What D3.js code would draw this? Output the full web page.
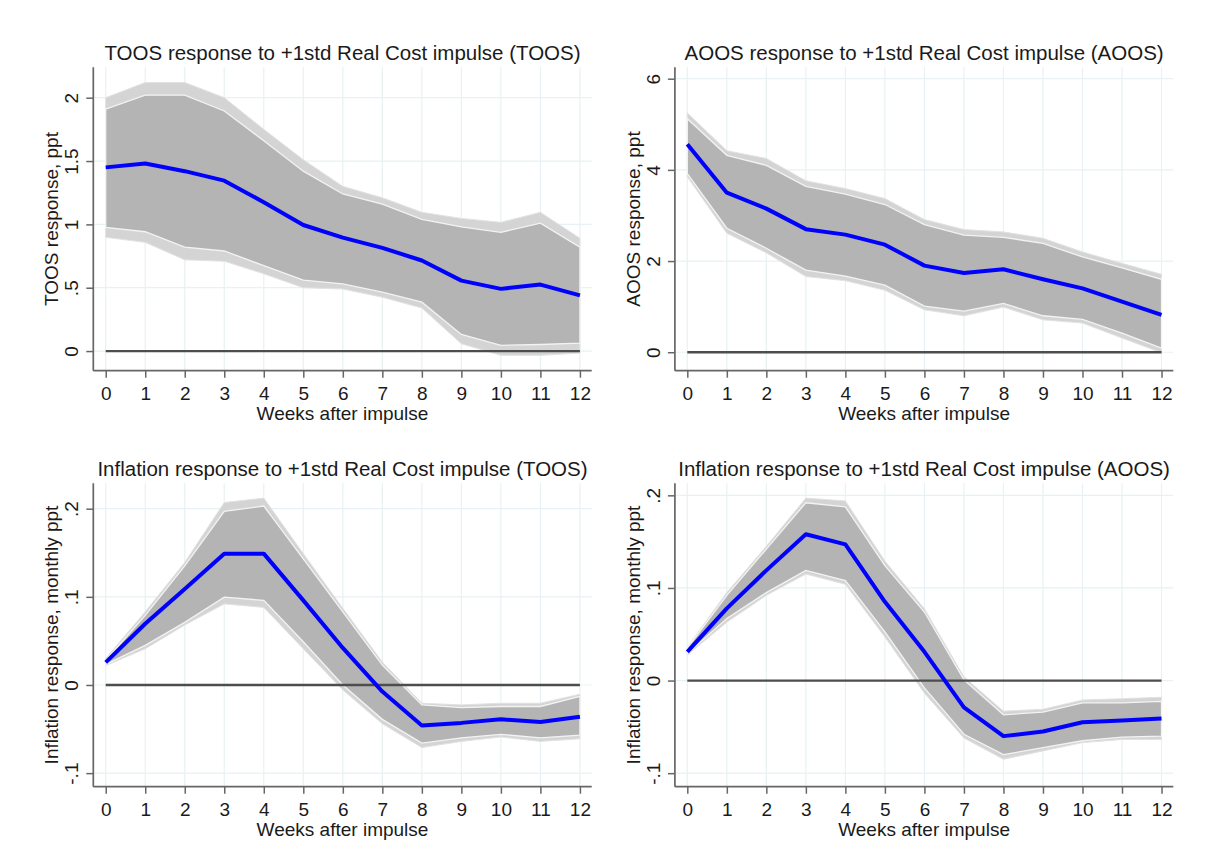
<!DOCTYPE html>
<html>
<head>
<meta charset="utf-8">
<script src="https://cdn.jsdelivr.net/npm/d3@7"></script>
<style>
  html, body { margin: 0; padding: 0; background: #fff; }
  svg { display: block; font-family: "Liberation Sans", Arial, sans-serif; }
</style>
</head>
<body>
<svg id="chart" width="1209" height="852"></svg>
<script>
// ---------------- DATA ----------------
const weeks = [0,1,2,3,4,5,6,7,8,9,10,11,12];
const xTickLabels = ["0","1","2","3","4","5","6","7","8","9","10","11","12"];

// Panel 1: TOOS response (TOOS)
const toosMid     = [1.45,1.48,1.42,1.345,1.175,0.995,0.895,0.815,0.715,0.556,0.491,0.525,0.44];
const toosInnerHi = [1.91,2.02,2.02,1.895,1.66,1.42,1.24,1.16,1.04,0.98,0.937,1.01,0.82];
const toosOuterHi = [2.0,2.12,2.12,2.0,1.75,1.51,1.30,1.21,1.095,1.047,1.016,1.095,0.89];
const toosInnerLo = [0.976,0.942,0.82,0.79,0.675,0.56,0.53,0.465,0.386,0.131,0.045,0.052,0.063];
const toosOuterLo = [0.898,0.858,0.72,0.709,0.61,0.50,0.49,0.425,0.34,0.058,-0.034,-0.034,-0.016];
const toosTicks = [0,0.5,1,1.5,2];
const toosTickLabels = ["0",".5","1","1.5","2"];

// Panel 2: AOOS response (AOOS)
const aoosMid     = [4.56,3.50,3.15,2.70,2.58,2.36,1.90,1.74,1.82,1.60,1.40,1.11,0.82];
const aoosInnerHi = [5.12,4.32,4.10,3.64,3.47,3.24,2.80,2.57,2.52,2.39,2.09,1.85,1.60];
const aoosOuterHi = [5.25,4.42,4.25,3.76,3.59,3.37,2.91,2.69,2.64,2.50,2.20,1.95,1.71];
const aoosInnerLo = [3.92,2.72,2.28,1.80,1.67,1.47,1.01,0.90,1.07,0.80,0.72,0.42,0.09];
const aoosOuterLo = [3.85,2.61,2.18,1.66,1.57,1.36,0.93,0.80,0.99,0.71,0.64,0.31,-0.01];
const aoosTicks = [0,2,4,6];
const aoosTickLabels = ["0","2","4","6"];

// Panel 3: Inflation response (TOOS)
const infToosMid     = [0.0256,0.0695,0.109,0.149,0.149,0.096,0.042,-0.0075,-0.046,-0.043,-0.039,-0.042,-0.036];
const infToosInnerHi = [0.028,0.079,0.135,0.197,0.203,0.143,0.083,0.0226,-0.0226,-0.0256,-0.0244,-0.0244,-0.013];
const infToosOuterHi = [0.030,0.083,0.139,0.207,0.212,0.149,0.087,0.026,-0.0207,-0.0226,-0.0207,-0.0207,-0.0105];
const infToosInnerLo = [0.0233,0.045,0.071,0.0996,0.096,0.049,0.0,-0.039,-0.066,-0.060,-0.056,-0.060,-0.057];
const infToosOuterLo = [0.022,0.041,0.068,0.092,0.088,0.041,-0.0056,-0.044,-0.071,-0.064,-0.059,-0.064,-0.061];
const infTicks = [-0.1,0,0.1,0.2];
const infTickLabels = ["-.1","0",".1",".2"];

// Panel 4: Inflation response (AOOS)
const infAoosMid     = [0.031,0.078,0.119,0.158,0.147,0.085,0.031,-0.029,-0.060,-0.055,-0.045,-0.043,-0.041];
const infAoosInnerHi = [0.035,0.092,0.142,0.192,0.1875,0.124,0.074,0.0007,-0.037,-0.034,-0.024,-0.024,-0.0225];
const infAoosOuterHi = [0.036,0.095,0.145,0.197,0.194,0.129,0.0775,0.004,-0.033,-0.031,-0.021,-0.0196,-0.018];
const infAoosInnerLo = [0.029,0.067,0.095,0.119,0.108,0.0525,-0.008,-0.058,-0.080,-0.0725,-0.065,-0.061,-0.060];
const infAoosOuterLo = [0.0275,0.063,0.092,0.115,0.104,0.047,-0.0136,-0.062,-0.085,-0.076,-0.067,-0.0636,-0.0636];

const titles = [
  "TOOS response to +1std Real Cost impulse (TOOS)",
  "AOOS response to +1std Real Cost impulse (AOOS)",
  "Inflation response to +1std Real Cost impulse (TOOS)",
  "Inflation response to +1std Real Cost impulse (AOOS)"
];
const yTitles = ["TOOS response, ppt","AOOS response, ppt","Inflation response, monthly ppt","Inflation response, monthly ppt"];
const xTitle = "Weeks after impulse";

// ---------------- LAYOUT ----------------
const svg = d3.select("#chart");
const colLeft = [93.3, 674.9];
const colWidth = 498.4;
const rowTop = [67.3, 483.3];
const rowHeight = 303.4;
const xDomain = [-0.314, 12.298];

const panels = [
  {col:0,row:0,yDom:[-0.155,2.24], ticks:toosTicks, tickLabels:toosTickLabels,
   mid:toosMid, iH:toosInnerHi, oH:toosOuterHi, iL:toosInnerLo, oL:toosOuterLo},
  {col:1,row:0,yDom:[-0.405,6.25], ticks:aoosTicks, tickLabels:aoosTickLabels,
   mid:aoosMid, iH:aoosInnerHi, oH:aoosOuterHi, iL:aoosInnerLo, oL:aoosOuterLo},
  {col:0,row:1,yDom:[-0.1154,0.2288], ticks:infTicks, tickLabels:infTickLabels,
   mid:infToosMid, iH:infToosInnerHi, oH:infToosOuterHi, iL:infToosInnerLo, oL:infToosOuterLo},
  {col:1,row:1,yDom:[-0.1146,0.213], ticks:infTicks, tickLabels:infTickLabels,
   mid:infAoosMid, iH:infAoosInnerHi, oH:infAoosOuterHi, iL:infAoosInnerLo, oL:infAoosOuterLo}
];

const textColor = "#1a1a1a";
const axisColor = "#666666";
const gridColor = "#e8f1f3";

panels.forEach((p, i) => {
  const L = colLeft[p.col], T = rowTop[p.row];
  const R = L + colWidth, B = T + rowHeight;
  const x = d3.scaleLinear().domain(xDomain).range([L, R]);
  const y = d3.scaleLinear().domain(p.yDom).range([B, T]);
  const g = svg.append("g");

  // gridlines
  g.append("g").selectAll("line.vg").data(weeks).join("line")
    .attr("x1", d => x(d)).attr("x2", d => x(d)).attr("y1", T).attr("y2", B)
    .attr("stroke", gridColor).attr("stroke-width", 1.2);
  g.append("g").selectAll("line.hg").data(p.ticks).join("line")
    .attr("x1", L).attr("x2", R).attr("y1", d => y(d)).attr("y2", d => y(d))
    .attr("stroke", gridColor).attr("stroke-width", 1.2);

  const idx = d3.range(weeks.length);
  const outer = d3.area().x(j => x(weeks[j])).y0(j => y(p.oL[j])).y1(j => y(p.oH[j]));
  const inner = d3.area().x(j => x(weeks[j])).y0(j => y(p.iL[j])).y1(j => y(p.iH[j]));
  g.append("path").datum(idx).attr("d", outer)
    .attr("fill", "#d4d4d4").attr("stroke", "#e2e2e2").attr("stroke-width", 1);
  g.append("path").datum(idx).attr("d", inner)
    .attr("fill", "#b4b4b4").attr("stroke", "#f3f3f3").attr("stroke-width", 1.3);

  // zero line
  g.append("line").attr("x1", x(weeks[0])).attr("x2", x(weeks[weeks.length-1]))
    .attr("y1", y(0)).attr("y2", y(0)).attr("stroke", "#4d4d4d").attr("stroke-width", 2.3);

  // IRF line
  const line = d3.line().x(j => x(weeks[j])).y(j => y(p.mid[j]));
  g.append("path").datum(idx).attr("d", line)
    .attr("fill", "none").attr("stroke", "#0000ff").attr("stroke-width", 4)
    .attr("stroke-linejoin", "round");

  // axes
  const xAxis = d3.axisBottom(x).tickValues(weeks).tickFormat((d, k) => xTickLabels[k])
    .tickSizeInner(7).tickSizeOuter(0).tickPadding(6);
  const xa = g.append("g").attr("transform", `translate(0,${B})`).call(xAxis);
  xa.select(".domain").attr("stroke", axisColor).attr("stroke-width", 1.7)
    .attr("d", `M${L},0H${R}`);
  xa.selectAll(".tick line").attr("stroke", axisColor).attr("stroke-width", 1.5);
  xa.selectAll(".tick text").attr("fill", textColor)
    .style("font-size", "19px").attr("dy", null).attr("y", 29.5);

  const yAxis = d3.axisLeft(y).tickValues(p.ticks).tickFormat((d, k) => p.tickLabels[k])
    .tickSizeInner(7).tickSizeOuter(0);
  const ya = g.append("g").attr("transform", `translate(${L},0)`).call(yAxis);
  ya.select(".domain").attr("stroke", axisColor).attr("stroke-width", 1.7)
    .attr("d", `M0,${T}V${B}`);
  ya.selectAll(".tick line").attr("stroke", axisColor).attr("stroke-width", 1.5);
  ya.selectAll(".tick text").attr("fill", textColor).style("font-size", "19px")
    .attr("x", null).attr("dy", null)
    .attr("transform", "translate(-15,0) rotate(-90)")
    .attr("text-anchor", "middle").attr("y", 0);

  // titles
  g.append("text").attr("x", (L + R) / 2).attr("y", T - 7.8)
    .attr("text-anchor", "middle").attr("fill", textColor)
    .style("font-size", "20.5px").text(titles[i]);
  g.append("text").attr("x", (L + R) / 2).attr("y", B + 49.3)
    .attr("text-anchor", "middle").attr("fill", textColor)
    .style("font-size", "19px").text(xTitle);
  g.append("text").attr("transform", `translate(${L - 35},${(T + B) / 2}) rotate(-90)`)
    .attr("text-anchor", "middle").attr("fill", textColor)
    .style("font-size", "19px").text(yTitles[i]);
});
</script>
</body>
</html>
